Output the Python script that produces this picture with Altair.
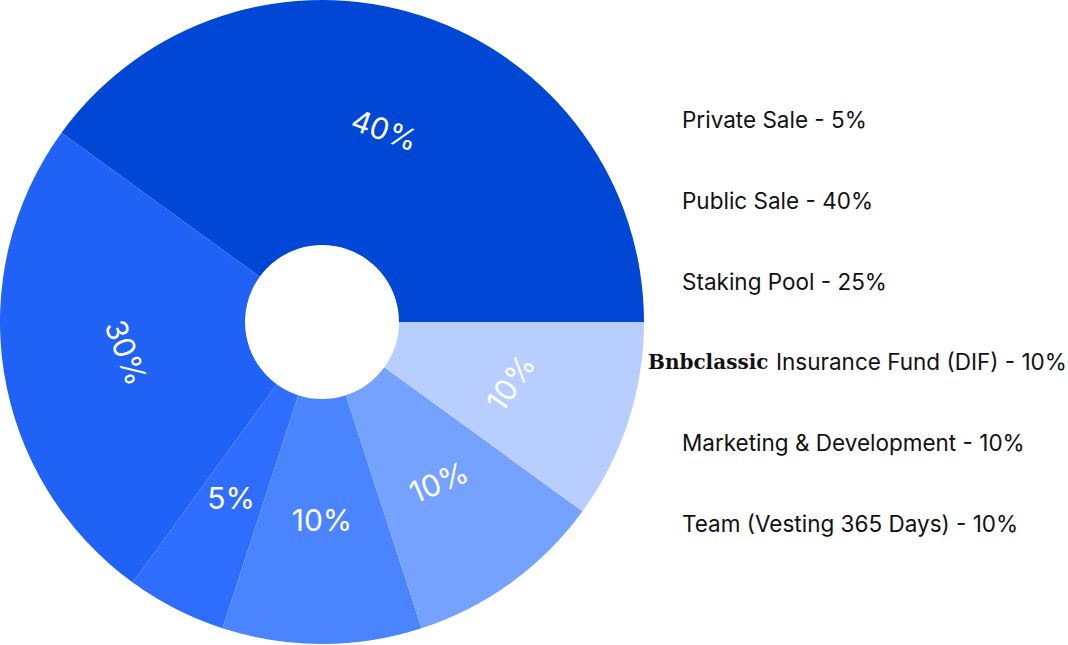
import altair as alt
import pandas as pd

# Slices, counter-clockwise from 3 o'clock
slice_names = ["Public Sale", "Staking Pool", "Private Sale",
               "Bnbclassic Insurance Fund (DIF)", "Marketing & Development",
               "Team (Vesting 365 Days)"]
slice_values = [40, 25, 5, 10, 10, 10]
slice_labels = ["40%", "30%", "5%", "10%", "10%", "10%"]

# Legend lines
legend_prefix = ["", "", "", "Bnbclassic", "", ""]
legend_text = ["Private Sale - 5%", "Public Sale - 40%", "Staking Pool - 25%",
               "Insurance Fund (DIF) - 10%", "Marketing & Development - 10%",
               "Team (Vesting 365 Days) - 10%"]

# Styles
slice_colors = ["#0047D6", "#1F62F5", "#2F6DFF", "#4A84FF", "#76A2FF", "#B8CEFF"]
label_rotation = [20, 69, 0, 0, 337, 305]
FONT = "Inter"

slices = pd.DataFrame({
    "idx": list(range(len(slice_names))),
    "name": slice_names,
    "value": slice_values,
    "label": slice_labels,
})
legend = pd.DataFrame({"prefix": legend_prefix, "text": legend_text})

rot_expr = "[" + ",".join(str(r) for r in label_rotation) + "][datum.idx]"

theta = alt.Theta("value:Q", stack=True,
                  scale=alt.Scale(range=[1.5707963, 7.8539816]))
order = alt.Order("idx:Q", sort="descending")
cx = alt.value(322)
cy = alt.value(322)

arcs = alt.Chart(slices).mark_arc(radius=322, innerRadius=77).encode(
    theta=theta,
    order=order,
    color=alt.Color("name:N", scale=alt.Scale(domain=slice_names, range=slice_colors),
                    legend=None),
    x=cx, y=cy,
)

labels = alt.Chart(slices).transform_calculate(rot=rot_expr).mark_text(
    radius=200, font=FONT, fontSize=30, color="white", fontWeight=400,
    align="center", baseline="middle",
).encode(
    theta=theta,
    order=order,
    text="label:N",
    angle=alt.Angle("rot:Q", scale=None),
    x=cx, y=cy,
)

ly = alt.Y("text:N", sort=None, axis=None,
           scale=alt.Scale(type="point", domain=legend_text, range=[121, 525], padding=0))

leg_plain = alt.Chart(legend).transform_filter("datum.prefix == ''").mark_text(
    font=FONT, fontSize=22.5, color="#111111", align="left", baseline="middle",
).encode(y=ly, x=alt.value(682), text="text:N")

leg_rest = alt.Chart(legend).transform_filter("datum.prefix != ''").mark_text(
    font=FONT, fontSize=22.5, color="#111111", align="left", baseline="middle",
).encode(y=ly, x=alt.value(776), text="text:N")

leg_prefix = alt.Chart(legend).transform_filter("datum.prefix != ''").mark_text(
    font="DejaVu Serif", fontWeight="bold", fontSize=20, color="#111111",
    align="left", baseline="middle",
).encode(y=ly, x=alt.value(648), text="prefix:N")

chart = alt.layer(arcs, labels, leg_plain, leg_rest, leg_prefix).properties(
    width=1068, height=645,
    autosize=alt.AutoSizeParams(type="none"),
    padding=0,
).configure_view(stroke=None)

chart.save("out.html", embed_options={"renderer": "svg", "actions": False})
